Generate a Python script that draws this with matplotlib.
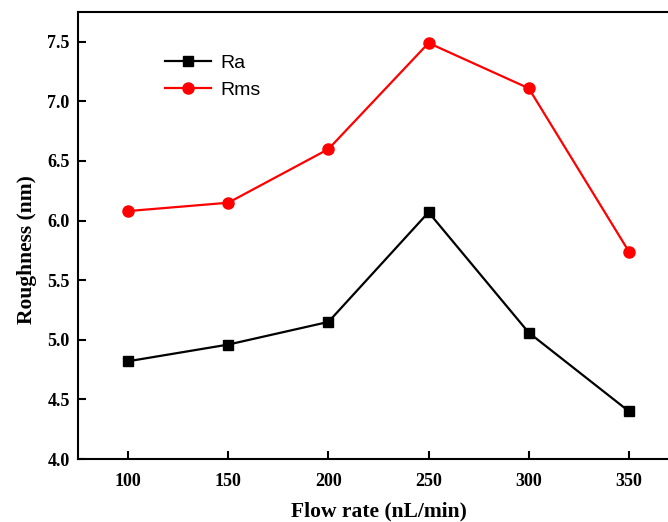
import matplotlib
matplotlib.use("Agg")
import matplotlib.pyplot as plt

# flow rate (nL/min) vs surface roughness (nm)
flow_rate = [100, 150, 200, 250, 300, 350]
ra = [4.82, 4.96, 5.15, 6.07, 5.06, 4.40]
rms = [6.08, 6.15, 6.60, 7.49, 7.11, 5.74]
x_ticks = [100, 150, 200, 250, 300, 350]
y_ticks = [4.0, 4.5, 5.0, 5.5, 6.0, 6.5, 7.0, 7.5]

serif = ["Liberation Serif", "DejaVu Serif"]

fig = plt.figure(figsize=(6.68, 5.22), dpi=100)
# right spine sits just outside the picture, as in the original crop
ax = fig.add_axes([78 / 668, 63 / 522, 601 / 668, 447 / 522])

ax.plot(flow_rate, ra, color="black", lw=1.6, marker="s", ms=7, label="Ra")
ax.plot(flow_rate, rms, color="red", lw=1.6, marker="o", ms=8, label="Rms")

ax.set_xlim(75, 375)
ax.set_ylim(4.0, 7.75)
ax.set_xticks(x_ticks)
ax.set_yticks(y_ticks)
ax.set_yticklabels([f"{v:.1f}" for v in y_ticks])

for s in ax.spines.values():
    s.set_linewidth(1.5)
ax.tick_params(direction="in", length=6, width=1.5, top=False, right=False, labelsize=13)
for lab in ax.get_xticklabels() + ax.get_yticklabels():
    lab.set_family(serif)
    lab.set_fontweight("bold")
ax.tick_params(axis="x", pad=10)
ax.tick_params(axis="y", pad=6)

ax.set_xlabel("Flow rate (nL/min)", family=serif, fontweight="bold", fontsize=15.5)
ax.set_ylabel("Roughness (nm)", family=serif, fontweight="bold", fontsize=15.5)
ax.xaxis.set_label_coords(0.5, -0.095)
ax.yaxis.set_label_coords(-0.068, 0.468)

ax.legend(loc="upper left", bbox_to_anchor=(0.115, 0.945), frameon=False,
          prop={"family": "Liberation Sans", "size": 14}, handlelength=2.4,
          handletextpad=0.45, labelspacing=0.5)

fig.savefig("out.png", dpi=100)
